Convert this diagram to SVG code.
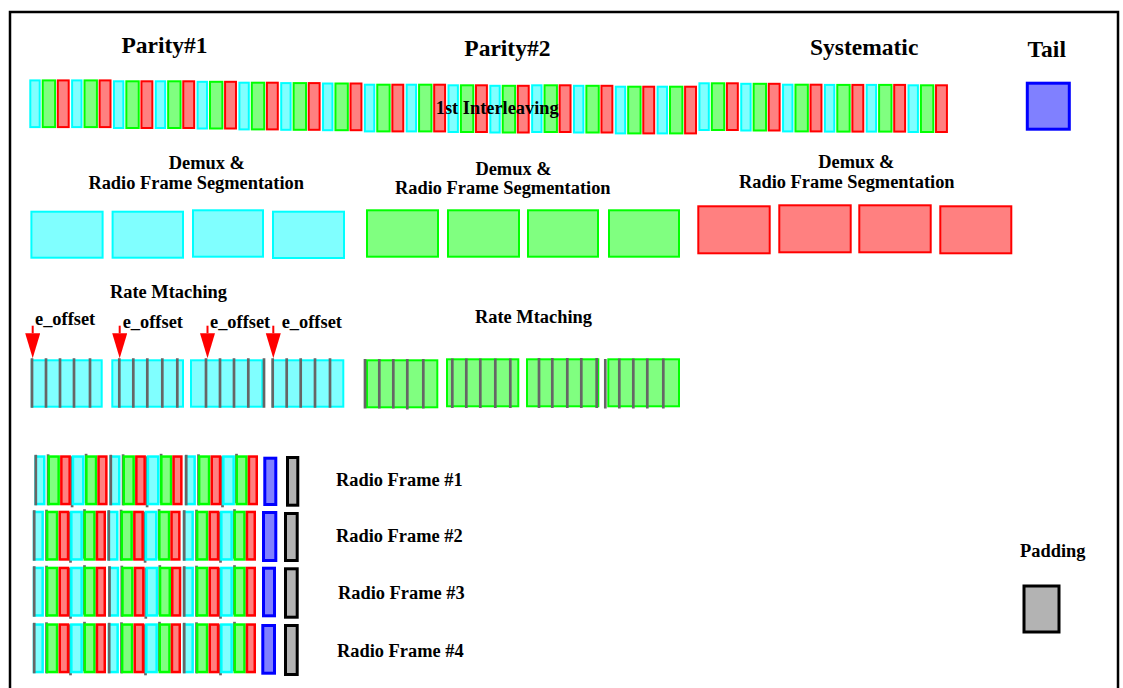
<svg xmlns="http://www.w3.org/2000/svg" xmlns:xlink="http://www.w3.org/1999/xlink" width="1123" height="688" viewBox="0 0 1123 688">
  <style>
    text { font-family: "Liberation Serif", "Times New Roman", serif; font-weight: bold; fill: #000; }
    .hdr { font-size: 23.5px; }
    .lbl { font-size: 18.4px; }
    .cy { fill: #80ffff; stroke: #00ffff; stroke-width: 2; }
    .gr { fill: #80ff80; stroke: #00ff00; stroke-width: 2; }
    .rd { fill: #ff8080; stroke: #ff0000; stroke-width: 2; }
    .rf .cy, .rf .gr, .rf .rd { stroke-width: 2.5; }
    .bl { fill: #8080ff; stroke: #0000ff; stroke-width: 3; }
    .pad { fill: #b3b3b3; stroke: #000; stroke-width: 3; }
    .rm { stroke: #666666; stroke-width: 2.7; fill: none; }
    .arrow { stroke: #ff0000; stroke-width: 2; fill: none; }
  </style>
  <defs>
    <!-- one interleaved triplet: parity#1, parity#2, systematic bit -->
    <g id="tri">
      <rect class="cy" x="1" y="1" width="9.4" height="46.7"/>
      <rect class="gr" x="13.4" y="1" width="12.4" height="46.7"/>
      <rect class="rd" x="28.5" y="1" width="10.9" height="46.7"/>
    </g>
    <!-- one segment of a radio frame with its rate matching lines -->
    <g id="rfg" class="rf">
      <line class="rm" x1="13.8" y1="-1" x2="13.8" y2="50"/>
      <line class="rm" x1="37.8" y1="1" x2="37.8" y2="52"/>
      <line class="rm" x1="51.8" y1="-1.5" x2="51.8" y2="48"/>
      <rect class="cy" x="1.25" y="1.25" width="8.7" height="47.5"/>
      <rect class="gr" x="14.45" y="1.25" width="9.9" height="47.5"/>
      <rect class="rd" x="27.05" y="1.25" width="8.3" height="47.5"/>
      <rect class="cy" x="38.65" y="1.25" width="10.3" height="47.5"/>
      <rect class="gr" x="52.05" y="1.25" width="9.7" height="47.5"/>
      <rect class="rd" x="64.25" y="1.25" width="7.8" height="47.5"/>
      <line class="rm" x1="1.5" y1="-0.5" x2="1.5" y2="50"/>
    </g>
    <marker id="head" markerUnits="userSpaceOnUse" markerWidth="26" markerHeight="16" refX="0" refY="7.5" orient="auto">
      <path d="M0,0 L25,7.5 L0,15 Z" fill="#ff0000"/>
    </marker>
  </defs>

  <!-- outer frame -->
  <rect x="10" y="12" width="1108" height="700" fill="none" stroke="#000" stroke-width="2.5"/>

  <!-- headings -->
  <g id="headings">
    <text class="hdr" x="121.4" y="52.7">Parity#1</text>
    <text class="hdr" x="464.3" y="56">Parity#2</text>
    <text class="hdr" x="810" y="55">Systematic</text>
    <text class="hdr" x="1027.6" y="57.3">Tail</text>
  </g>

  <!-- interleaved bit stream -->
  <g id="interleaving">
    <use xlink:href="#tri" x="29.3" y="79.4"/>
    <use xlink:href="#tri" x="71.12" y="79.4"/>
    <use xlink:href="#tri" x="112.94" y="80.3"/>
    <use xlink:href="#tri" x="154.76" y="80.3"/>
    <use xlink:href="#tri" x="196.58" y="80.8"/>
    <use xlink:href="#tri" x="238.4" y="81.7"/>
    <use xlink:href="#tri" x="280.22" y="82.1"/>
    <use xlink:href="#tri" x="322.04" y="82.5"/>
    <use xlink:href="#tri" x="363.86" y="83.7"/>
    <use xlink:href="#tri" x="405.68" y="83.7"/>
    <use xlink:href="#tri" x="447.5" y="84.3"/>
    <use xlink:href="#tri" x="489.32" y="84.8"/>
    <use xlink:href="#tri" x="531.14" y="84.3"/>
    <use xlink:href="#tri" x="572.96" y="84.8"/>
    <use xlink:href="#tri" x="614.78" y="85.7"/>
    <use xlink:href="#tri" x="656.6" y="85.7"/>
    <use xlink:href="#tri" x="698.42" y="82.3"/>
    <use xlink:href="#tri" x="740.24" y="82.8"/>
    <use xlink:href="#tri" x="782.06" y="83.7"/>
    <use xlink:href="#tri" x="823.88" y="83.9"/>
    <use xlink:href="#tri" x="865.7" y="83.9"/>
    <use xlink:href="#tri" x="907.52" y="84.3"/>
    <text class="lbl" x="435.7" y="114.3">1st Interleaving</text>
  </g>

  <g id="tail">
    <rect class="bl" x="1027.3" y="83.2" width="42" height="46"/>
  </g>

  <!-- demux and radio frame segmentation -->
  <g id="demux-parity1">
    <text class="lbl" x="168.8" y="169.3">Demux &amp;</text>
    <text class="lbl" x="88.4" y="189.3">Radio Frame Segmentation</text>
    <rect class="cy" x="31.4" y="211.7" width="71.2" height="46"/>
    <rect class="cy" x="112.6" y="211.7" width="70.4" height="46"/>
    <rect class="cy" x="193" y="210.3" width="70" height="46.4"/>
    <rect class="cy" x="273" y="211.7" width="71" height="46.3"/>
  </g>
  <g id="demux-parity2">
    <text class="lbl" x="475.4" y="174.7">Demux &amp;</text>
    <text class="lbl" x="395" y="194">Radio Frame Segmentation</text>
    <rect class="gr" x="367" y="210.3" width="71" height="46.4"/>
    <rect class="gr" x="448" y="210.3" width="71" height="46.4"/>
    <rect class="gr" x="528" y="210.3" width="70" height="46.4"/>
    <rect class="gr" x="609" y="210.3" width="70" height="46.4"/>
  </g>
  <g id="demux-systematic">
    <text class="lbl" x="818.3" y="168.3">Demux &amp;</text>
    <text class="lbl" x="739" y="188.3">Radio Frame Segmentation</text>
    <rect class="rd" x="698.3" y="206.3" width="71.4" height="47"/>
    <rect class="rd" x="779.3" y="205.3" width="71.4" height="47"/>
    <rect class="rd" x="859.3" y="205.3" width="71.4" height="47"/>
    <rect class="rd" x="940.3" y="206.3" width="71" height="47"/>
  </g>

  <!-- rate matching -->
  <g id="rate-matching-parity1">
    <text class="lbl" x="110" y="298">Rate Mtaching</text>
    <text class="lbl" x="35" y="325">e_offset</text>
    <text class="lbl" x="122.7" y="327.5">e_offset</text>
    <text class="lbl" x="210" y="327.5">e_offset</text>
    <text class="lbl" x="281.7" y="327.5">e_offset</text>
    <rect class="cy" x="31.7" y="360.3" width="70" height="46.4"/>
    <rect class="cy" x="112.3" y="360.3" width="70.7" height="46.4"/>
    <rect class="cy" x="191" y="360.3" width="71.3" height="46.4"/>
    <rect class="cy" x="272.7" y="360.3" width="70.6" height="46.4"/>
    <path class="rm" d="M32,358.3V407.7M46,358.3V407.7M60,358.3V407.7M74,358.3V407.7M90,358.3V407.7
      M119.3,358.3V407.7M133.3,358.3V407.7M147.3,358.3V407.7M162.3,358.3V407.7M177.3,358.3V407.7
      M206,358.3V407.7M220,358.3V407.7M234,358.3V407.7M248.3,358.3V407.7M264,358.3V407.7
      M272.7,358.3V407.7M286.7,358.3V407.7M300.7,358.3V407.7M315,358.3V407.7M330,358.3V407.7"/>
  </g>
  <g id="rate-matching-parity2">
    <text class="lbl" x="475" y="323.3">Rate Mtaching</text>
    <rect class="gr" x="367" y="360.3" width="70.3" height="47"/>
    <rect class="gr" x="447" y="359.3" width="71.3" height="47"/>
    <rect class="gr" x="527" y="359.3" width="71.3" height="47"/>
    <rect class="gr" x="608.3" y="359.3" width="70.7" height="47"/>
    <path class="rm" d="M365,359V408.5M379.3,359V408.5M393.3,359V408.5M407.3,359V409.5M423.3,359V408.5
      M452.3,358.5V408M466.3,358.5V408M480.3,358.5V408M495.3,358.5V408M510.3,358.5V408
      M539,358V408M552.3,358V408M567.3,358V408M581.3,358V408M596.7,358V408M605.3,359V408.5
      M619.3,358.5V408.5M633.3,358.5V408.5M647.3,358.5V408.5M663.3,358.5V408.5"/>
  </g>

  <!-- radio frames -->
  <g id="radio-frame-1">
    <use xlink:href="#rfg" x="34.3" y="455.3"/>
    <use xlink:href="#rfg" x="109.3" y="455.3"/>
    <use xlink:href="#rfg" x="184.7" y="455.3"/>
    <rect class="bl" x="264.8" y="458.2" width="11" height="46.3"/>
    <rect class="pad" x="287.5" y="457.5" width="10.3" height="47.7"/>
    <text class="lbl" x="336" y="486">Radio Frame #1</text>
  </g>
  <g id="radio-frame-2">
    <use xlink:href="#rfg" x="32.7" y="510.7"/>
    <use xlink:href="#rfg" x="107.3" y="510.7"/>
    <use xlink:href="#rfg" x="182.7" y="510.7"/>
    <rect class="bl" x="263.5" y="512.5" width="12.3" height="48"/>
    <rect class="pad" x="285.5" y="513.5" width="11.7" height="47"/>
    <text class="lbl" x="336" y="542">Radio Frame #2</text>
  </g>
  <g id="radio-frame-3">
    <use xlink:href="#rfg" x="32.7" y="566.7"/>
    <use xlink:href="#rfg" x="108" y="566.7"/>
    <use xlink:href="#rfg" x="182.7" y="566.7"/>
    <rect class="bl" x="263.5" y="568.2" width="11" height="47.6"/>
    <rect class="pad" x="285.5" y="568.8" width="11.7" height="48.4"/>
    <text class="lbl" x="338" y="599">Radio Frame #3</text>
  </g>
  <g id="radio-frame-4">
    <use xlink:href="#rfg" x="32.7" y="623.3"/>
    <use xlink:href="#rfg" x="107.7" y="623.3"/>
    <use xlink:href="#rfg" x="182.7" y="623.3"/>
    <rect class="bl" x="262.8" y="625.5" width="11.7" height="47.7"/>
    <rect class="pad" x="285.5" y="625.5" width="11.7" height="49"/>
    <text class="lbl" x="337" y="657">Radio Frame #4</text>
  </g>

  <g id="padding">
    <text class="lbl" x="1020" y="557">Padding</text>
    <rect class="pad" x="1024" y="586" width="35" height="46" stroke-width="2"/>
  </g>

  <!-- e_offset pointers -->
  <g id="connectors">
    <line class="arrow" x1="32.7" y1="325.7" x2="32.7" y2="333.3" marker-end="url(#head)"/>
    <line class="arrow" x1="119.7" y1="325.7" x2="119.7" y2="333.3" marker-end="url(#head)"/>
    <line class="arrow" x1="207.5" y1="325.7" x2="207.5" y2="333.3" marker-end="url(#head)"/>
    <line class="arrow" x1="273.3" y1="325.7" x2="273.3" y2="333.3" marker-end="url(#head)"/>
  </g>
</svg>
